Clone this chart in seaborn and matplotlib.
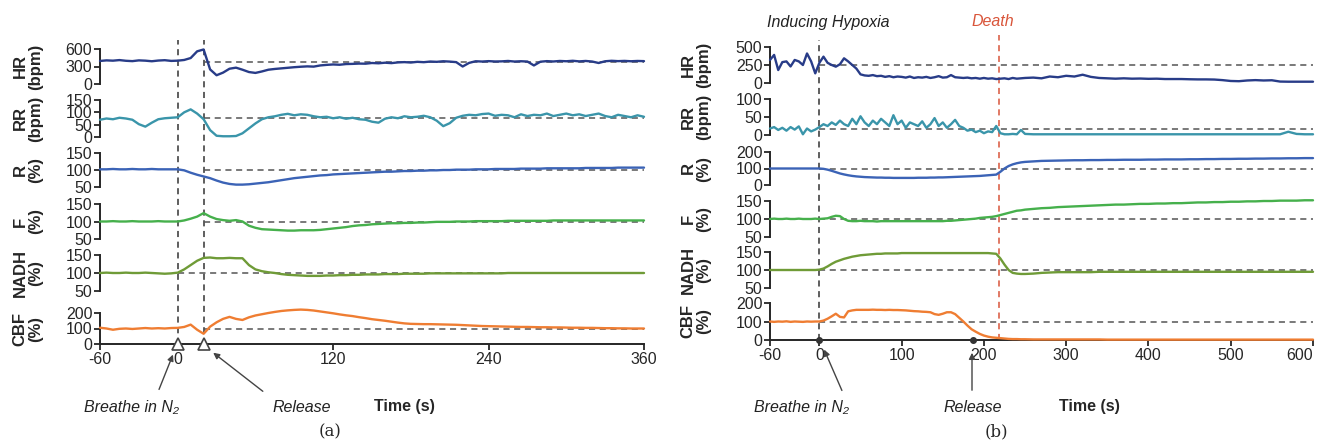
import matplotlib
matplotlib.use("Agg")
import matplotlib.pyplot as plt
import pandas as pd
import seaborn as sns

W, H = 1320, 445

# ---------------- panel (a) ----------------
time_a = list(range(-60, 361, 5))
hr_a = [395, 405, 400, 410, 398, 392, 405, 400, 390, 402, 408, 396,
        400, 412, 445, 560, 592, 250, 150, 195, 262, 280,
        245, 205, 190, 215, 245, 258, 268, 278, 288, 296,
        302, 298, 318, 328, 335, 330, 342, 345, 350, 348,
        360, 355, 365, 358, 370, 375, 368, 380, 374, 385,
        380, 390, 384, 375, 300, 362, 390, 385, 392, 386,
        388, 395, 385, 390, 385, 318, 382, 392, 386, 395,
        390, 398, 388, 395, 385, 360, 390, 398, 392, 396,
        390, 395, 392]
rr_a = [70, 75, 72, 78, 75, 70, 52, 42, 58, 72, 76, 78,
        80, 100, 112, 95, 72, 28, 5, 3, 3, 4,
        15, 35, 55, 72, 80, 84, 90, 94, 88, 92,
        90, 84, 80, 82, 76, 80, 74, 78, 72, 70,
        62, 58, 74, 80, 76, 84, 80, 82, 86, 80,
        66, 44, 56, 78, 86, 90, 88, 93, 95, 86,
        90, 88, 80, 92, 85, 90, 88, 95, 85, 90,
        95, 88, 92, 85, 90, 95, 85, 80, 90, 85,
        80, 88, 82]
r_a = [102, 102, 103, 102, 102, 103, 102, 102, 103, 102, 102, 102,
       102, 99, 92, 86, 81, 76, 69, 63, 59, 57,
       57, 58, 60, 62, 64, 67, 70, 73, 76, 78,
       80, 82, 84, 85, 87, 88, 89, 90, 91, 92,
       93, 94, 95, 95, 96, 97, 97, 98, 98, 99,
       99, 100, 100, 101, 101, 101, 102, 102, 102, 103,
       103, 103, 103, 104, 104, 104, 104, 105, 105, 105,
       105, 105, 105, 106, 106, 106, 106, 106, 107, 107,
       107, 107, 107]
f_a = [100, 100, 101, 100, 100, 101, 100, 100, 100, 101, 100, 100,
       100, 103, 108, 114, 124, 114, 107, 104, 102, 104,
       100, 88, 82, 78, 77, 76, 75, 74, 74, 75,
       75, 75, 76, 78, 80, 82, 84, 87, 89, 90,
       92, 93, 94, 95, 95, 96, 96, 97, 97, 98,
       99, 99, 99, 100, 100, 100, 101, 101, 101, 101,
       101, 102, 102, 102, 102, 102, 102, 102, 103, 103,
       103, 103, 103, 103, 103, 103, 103, 103, 103, 103,
       103, 103, 103]
nadh_a = [100, 101, 100, 100, 101, 100, 100, 101, 100, 99, 98, 99,
          101, 110, 122, 134, 142, 143, 141, 141, 142, 141,
          141, 122, 110, 105, 102, 100, 97, 95, 94, 93,
          92, 92, 92, 93, 93, 94, 94, 95, 95, 96,
          96, 96, 97, 97, 97, 98, 98, 98, 98, 99,
          99, 99, 99, 99, 99, 99, 99, 99, 99, 99,
          99, 100, 100, 100, 100, 100, 100, 100, 100, 100,
          100, 100, 100, 100, 100, 100, 100, 100, 100, 100,
          100, 100, 100]
cbf_a = [105, 100, 92, 98, 100, 97, 100, 103, 100, 102, 100, 103,
         104, 110, 125, 92, 66, 112, 140, 162, 175, 162,
         155, 172, 184, 192, 200, 207, 213, 217, 220, 222,
         220, 216, 210, 204, 198, 191, 185, 180, 173, 167,
         160, 155, 150, 144, 138, 133, 130, 129, 128, 128,
         127, 126, 125, 124, 122, 120, 118, 116, 115, 114,
         113, 112, 111, 110, 110, 109, 108, 108, 107, 107,
         106, 105, 105, 104, 104, 103, 102, 102, 101, 101,
         100, 100, 100]
events_a = [0, 20]

# ---------------- panel (b) ----------------
time_b = list(range(-60, 250, 5)) + list(range(250, 601, 10))
hr_b = [320, 390, 180, 290, 300, 230, 320, 300, 250, 410,
        300, 134, 280, 366, 280, 250, 227, 260, 343, 300,
        250, 200, 120, 105, 100, 110, 95, 100, 85, 95,
        80, 90, 85, 75, 90, 70, 80, 75, 85, 70,
        80, 95, 75, 80, 110, 80, 75, 70, 75, 65,
        70, 60, 70, 60, 65, 55, 60, 65, 55, 70,
        60, 65,
        70, 75, 65, 90, 80, 100, 90, 115, 85, 70,
        65, 60, 65, 60, 62, 58, 60, 55, 55, 55,
        52, 50, 50, 48, 40, 28, 25, 35, 40, 35,
        38, 20, 18, 18, 18, 18]
rr_b = [18, 22, 14, 20, 12, 22, 15, 24, 2, 18,
        10, 15, 22, 30, 25, 35, 28, 40, 30, 25,
        45, 30, 52, 35, 25, 40, 30, 45, 35, 25,
        55, 30, 40, 20, 35, 30, 25, 38, 20, 30,
        47, 25, 35, 20, 30, 42, 25, 20, 12, 15,
        8, 12, 5, 10, 8, 25, 5, 2, 2, 3,
        2, 14,
        3, 2, 2, 2, 2, 2, 2, 2, 2, 2,
        2, 2, 2, 2, 2, 2, 2, 2, 2, 2,
        2, 2, 2, 2, 2, 2, 2, 2, 2, 2,
        2, 2, 9, 3, 2, 2]
r_b = [100, 100, 100, 100, 100, 100, 100, 100, 100, 100,
       100, 100, 100, 98, 93, 86, 78, 70, 64, 59,
       55, 52, 50, 48, 47, 46, 45, 45, 44, 44,
       43, 43, 43, 43, 43, 43, 44, 44, 44, 45,
       45, 46, 46, 47, 48, 49, 50, 51, 52, 53,
       54, 55, 57, 59, 61, 63, 80, 100, 115, 125,
       132, 137,
       140, 143, 146, 147, 148, 149, 150, 150, 151, 151,
       152, 152, 153, 153, 153, 154, 154, 155, 155, 155,
       156, 156, 157, 157, 158, 158, 159, 159, 160, 160,
       161, 161, 162, 162, 163, 163]
f_b = [100, 101, 100, 100, 101, 100, 100, 101, 100, 100,
       100, 101, 100, 101, 102, 106, 109, 108, 100, 95,
       94, 94, 95, 94, 94, 94, 93, 94, 94, 94,
       94, 94, 94, 94, 94, 94, 94, 94, 94, 94,
       94, 94, 94, 95, 95, 96, 97, 98, 99, 100,
       101, 103, 104, 105, 106, 108, 111, 114, 117, 120,
       123, 124,
       126, 128, 130, 131, 133, 134, 135, 136, 137, 138,
       139, 140, 140, 141, 142, 142, 143, 143, 144, 144,
       145, 146, 146, 147, 147, 148, 148, 149, 149, 150,
       150, 151, 151, 151, 152, 152]
nadh_b = [100, 100, 100, 100, 100, 100, 100, 100, 100, 100,
          100, 100, 101, 104, 110, 117, 123, 127, 131, 134,
          137, 139, 141, 142, 143, 144, 145, 145, 146, 146,
          146, 146, 147, 147, 147, 147, 147, 147, 147, 147,
          147, 147, 147, 147, 147, 147, 147, 147, 147, 147,
          147, 147, 147, 147, 146, 145, 132, 115, 100, 92,
          90, 89,
          89, 90, 92, 93, 94, 94, 94, 94, 94, 95,
          95, 95, 95, 95, 95, 95, 95, 95, 95, 95,
          95, 95, 95, 95, 95, 95, 95, 95, 95, 95,
          95, 95, 95, 95, 95, 95]
cbf_b = [100, 98, 100, 99, 101, 98, 100, 99, 98, 100,
         99, 100, 100, 105, 115, 128, 142, 125, 122, 155,
         160, 163, 163, 163, 163, 164, 163, 163, 162, 163,
         162, 162, 161, 160, 158, 156, 155, 153, 152, 150,
         140, 136, 142, 150, 150, 140, 120, 100, 78, 58,
         45, 33, 24, 18, 14, 12, 10, 8, 6, 5,
         5, 4,
         4, 3, 3, 3, 3, 3, 3, 3, 3, 3,
         2, 2, 2, 2, 2, 2, 2, 2, 2, 2,
         2, 2, 2, 2, 2, 2, 2, 2, 2, 2,
         2, 2, 2, 2, 2, 2]
hypoxia_b = 0
death_b = 218
release_b = 187

C_HR, C_RR, C_R = "#283c88", "#3a95aa", "#3b63b6"
C_F, C_NADH, C_CBF = "#46b04c", "#6f9b37", "#ef7d32"
C_DEATH = "#d9553a"
DASH = (0, (4, 3))

sns.set_style("ticks")
plt.rcParams["font.family"] = ["Liberation Sans", "DejaVu Sans"]
plt.rcParams["axes.linewidth"] = 1.4
plt.rcParams["axes.unicode_minus"] = False

fig = plt.figure(figsize=(W / 100, H / 100), dpi=100)


def fig_text(x, y, s, **kw):
    fig.text(x / W, 1 - y / H, s, **kw)


def draw_panel(time, rows, x0, x1, xlim, xticks, label_x):
    axes = []
    for i, row in enumerate(rows):
        name, unit, vals, color, lo, hi, ticks, base, start, top, bot = row
        ax = fig.add_axes([x0 / W, 1 - bot / H, (x1 - x0) / W, (bot - top) / H])
        ax.patch.set_alpha(0)
        df = pd.DataFrame({"t": time, "v": vals})
        sns.lineplot(data=df, x="t", y="v", ax=ax, color=color, lw=1.7,
                     errorbar=None, clip_on=False, zorder=3)
        ax.hlines(base, start, xlim[1], colors="#555555", linestyles=DASH,
                  lw=1.1, zorder=2)
        ax.set_xlim(*xlim)
        ax.set_ylim(lo, hi)
        ax.set_xlabel("")
        ax.set_ylabel("")
        ax.set_yticks(ticks)
        ax.spines["top"].set_visible(False)
        ax.spines["right"].set_visible(False)
        ax.spines["left"].set_bounds(lo, hi)
        ax.tick_params(axis="y", direction="out", length=4, width=1.3,
                       labelsize=11.5, pad=1.5)
        last = i == len(rows) - 1
        if last:
            ax.set_xticks(xticks)
            ax.tick_params(axis="x", direction="out", length=4, width=1.3,
                           labelsize=11.5, pad=2)
        else:
            ax.spines["bottom"].set_visible(False)
            ax.set_xticks([])
        fig_text(label_x, (top + bot) / 2, f"{name}\n{unit}", rotation=90,
                 ha="center", va="center", ma="center", fontsize=12,
                 fontweight="bold", linespacing=1.1)
        axes.append(ax)
    return axes


rows_a = [
    ("HR", "(bpm)", hr_a, C_HR, 0, 600, [0, 300, 600], 380, 20, 49, 84),
    ("RR", "(bpm)", rr_a, C_RR, 0, 150, [0, 50, 100, 150], 78, 20, 100, 137),
    ("R", "(%)", r_a, C_R, 50, 150, [50, 100, 150], 100, 20, 153, 187),
    ("F", "(%)", f_a, C_F, 50, 150, [50, 100, 150], 100, 20, 204, 239),
    ("NADH", "(%)", nadh_a, C_NADH, 50, 150, [50, 100, 150], 100, 0, 255, 291),
    ("CBF", "(%)", cbf_a, C_CBF, 0, 200, [0, 100, 200], 100, 20, 313, 344),
]
rows_b = [
    ("HR", "(bpm)", hr_b, C_HR, 0, 500, [0, 250, 500], 250, 0, 47, 83),
    ("RR", "(bpm)", rr_b, C_RR, 0, 100, [0, 50, 100], 17, 0, 99, 135),
    ("R", "(%)", r_b, C_R, 0, 200, [0, 100, 200], 100, 0, 152, 185),
    ("F", "(%)", f_b, C_F, 50, 150, [50, 100, 150], 100, 0, 201, 237),
    ("NADH", "(%)", nadh_b, C_NADH, 50, 150, [50, 100, 150], 100, 0, 252, 288),
    ("CBF", "(%)", cbf_b, C_CBF, 0, 200, [0, 100, 200], 100, 0, 303, 340),
]

axes_a = draw_panel(time_a, rows_a, 100, 644, (-60, 360), [-60, 0, 120, 240, 360], 28)
axes_b = draw_panel(time_b, rows_b, 770, 1313, (-60, 600),
                    [-60, 0, 100, 200, 300, 400, 500, 600], 696)

# keep the last tick label of panel (b) inside the figure
last_lbl = axes_b[-1].get_xticklabels()[-1]
last_lbl.set_horizontalalignment("right")
last_lbl.set_x(600)

# vertical event lines spanning all rows (overlay axes)
ov_a = fig.add_axes([100 / W, 1 - 344 / H, 544 / W, (344 - 40) / H], zorder=-1)
ov_a.set_xlim(-60, 360)
ov_a.set_ylim(0, 1)
ov_a.axis("off")
for ev in events_a:
    ov_a.axvline(ev, color="#333333", ls=DASH, lw=1.1)

ov_b = fig.add_axes([770 / W, 1 - 340 / H, 543 / W, (340 - 35) / H], zorder=-1)
ov_b.set_xlim(-60, 600)
ov_b.set_ylim(0, 1)
ov_b.axis("off")
ov_b.axvline(hypoxia_b, ymax=(340 - 40) / (340 - 35), color="#333333", ls=DASH, lw=1.1)
ov_b.axvline(death_b, color=C_DEATH, ls=DASH, lw=1.1)

# markers on the time axis
cbf_ax_a, cbf_ax_b = axes_a[-1], axes_b[-1]
cbf_ax_a.plot(events_a, [0, 0], ls="none", marker="^", ms=8, mfc="white",
              mec="#444444", mew=1.2, clip_on=False, zorder=5)
cbf_ax_b.plot([hypoxia_b, release_b], [0, 0], ls="none", marker="o", ms=4,
              color="#333333", clip_on=False, zorder=5)

# arrows and annotations
for tail, head in [((158, 392), (174, 352)), ((265, 393), (211, 351)),
                   ((843, 393), (823, 347)), ((972, 393), (972, 350))]:
    fig.add_artist(matplotlib.patches.FancyArrowPatch(
        (tail[0] / W, 1 - tail[1] / H), (head[0] / W, 1 - head[1] / H),
        transform=fig.transFigure, arrowstyle="-|>", color="#444444", lw=1.0,
        mutation_scale=9))

ital = dict(fontsize=11.5, style="italic", ha="center", va="center", color="#222222")
fig_text(132, 407, "Breathe in N₂", **ital)
fig_text(302, 407, "Release", **ital)
fig_text(802, 407, "Breathe in N₂", **ital)
fig_text(973, 407, "Release", **ital)
fig_text(404, 407, "Time (s)", fontsize=11.5, fontweight="bold", ha="center", va="center")
fig_text(1089, 407, "Time (s)", fontsize=11.5, fontweight="bold", ha="center", va="center")
fig_text(828, 22, "Inducing Hypoxia", **ital)
fig_text(993, 22, "Death", **dict(ital, color=C_DEATH))
fig_text(330, 432, "(a)", fontsize=12, family="DejaVu Serif", ha="center", va="center")
fig_text(996, 432, "(b)", fontsize=12, family="DejaVu Serif", ha="center", va="center")

fig.savefig("out.png", dpi=100, facecolor="white")
